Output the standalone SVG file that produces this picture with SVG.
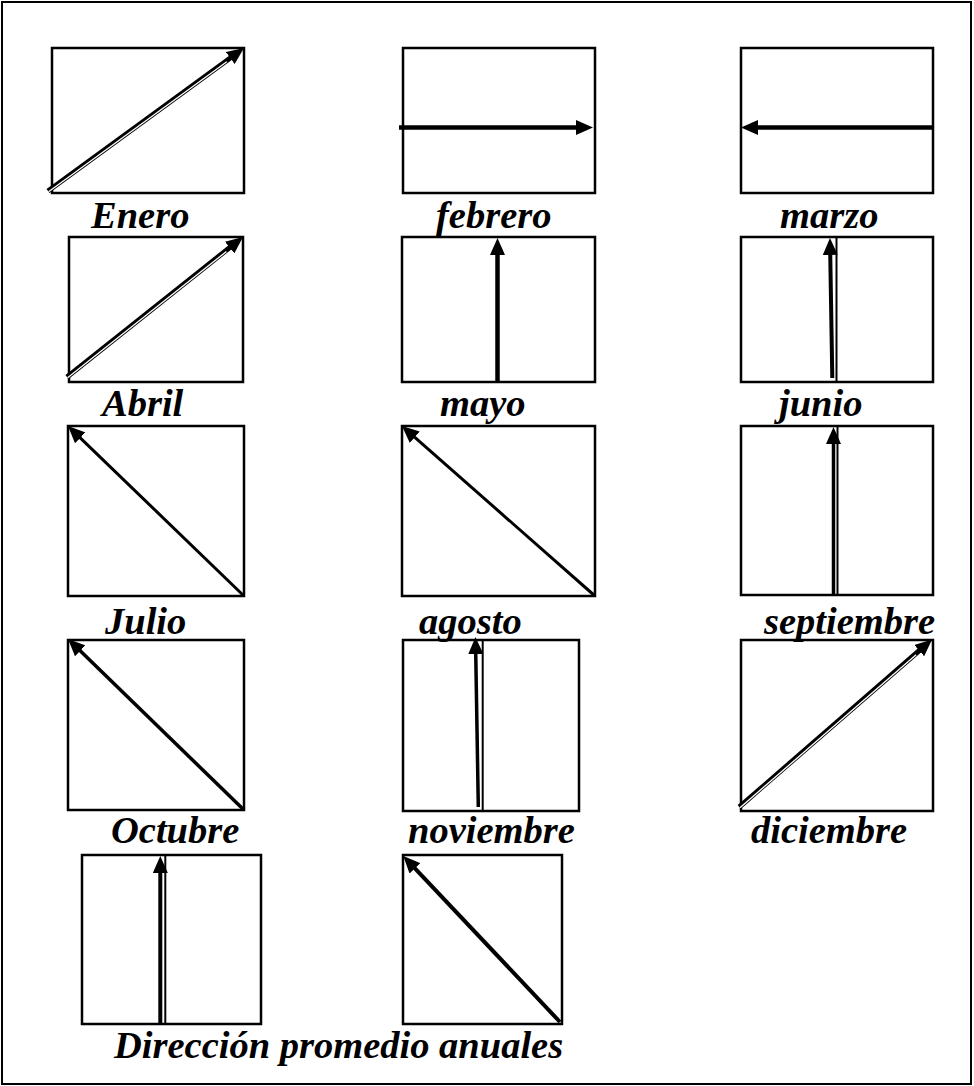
<svg xmlns="http://www.w3.org/2000/svg" width="974" height="1086" viewBox="0 0 974 1086">
<style>
.frame{fill:#fff;stroke:#000;stroke-width:2}
.box{fill:none;stroke:#000;stroke-width:2.5}
.lbl{font-family:"Liberation Serif","Times New Roman",serif;font-weight:bold;font-style:italic;font-size:38.5px;fill:#000}
.a{stroke:#000;fill:none;marker-end:url(#ah)}
.w{stroke:#fff;stroke-width:1.3;fill:none}
.t{stroke:#000;stroke-width:2;fill:none}
</style>
<defs>
<marker id="ah" markerUnits="userSpaceOnUse" markerWidth="17" markerHeight="15" refX="9" refY="7.5" orient="auto">
<path d="M0,0 L17,7.5 L0,15 z" fill="#000"/>
</marker>
</defs>
<rect class="frame" x="2" y="2" width="969" height="1082"/>
<g id="enero"><rect class="box" x="52" y="48" width="192" height="145"/><text class="lbl" x="91" y="228">Enero</text></g>
<g id="febrero"><rect class="box" x="403" y="48" width="192" height="145"/><text class="lbl" x="436" y="228">febrero</text></g>
<g id="marzo"><rect class="box" x="741" y="48" width="192" height="145"/><text class="lbl" x="780" y="228">marzo</text></g>
<g id="abril"><rect class="box" x="69" y="237" width="174" height="145"/><text class="lbl" x="102" y="416">Abril</text></g>
<g id="mayo"><rect class="box" x="402" y="237" width="193" height="145"/><text class="lbl" x="440" y="416">mayo</text></g>
<g id="junio"><rect class="box" x="741" y="237" width="192" height="145"/><text class="lbl" x="779" y="416">junio</text></g>
<g id="julio"><rect class="box" x="68" y="426" width="176" height="170"/><text class="lbl" x="105" y="634">Julio</text></g>
<g id="agosto"><rect class="box" x="402" y="426" width="193" height="170"/><text class="lbl" x="419" y="634">agosto</text></g>
<g id="septiembre"><rect class="box" x="741" y="426" width="192" height="169"/><text class="lbl" x="764" y="634">septiembre</text></g>
<g id="octubre"><rect class="box" x="68" y="640" width="176" height="170"/><text class="lbl" x="111" y="843">Octubre</text></g>
<g id="noviembre"><rect class="box" x="403" y="640" width="176" height="171"/><text class="lbl" x="408" y="843">noviembre</text></g>
<g id="diciembre"><rect class="box" x="741" y="640" width="192" height="171"/><text class="lbl" x="751" y="843">diciembre</text></g>
<g id="anual1"><rect class="box" x="82" y="855" width="179" height="169"/></g>
<g id="anual2"><rect class="box" x="403" y="855" width="159" height="169"/></g>
<g id="caption"><text class="lbl" x="114" y="1058">Dirección promedio anuales</text></g>
<g id="connectors">
<line class="a" x1="48" y1="191" x2="237.5" y2="52.7" stroke-width="5"/>
<line class="w" x1="48.6" y1="191.8" x2="226.8" y2="61.8"/>
<line class="a" x1="399" y1="127.5" x2="585" y2="127.5" stroke-width="4.5"/>
<line class="a" x1="933" y1="127.5" x2="749" y2="127.5" stroke-width="4.5"/>
<line class="a" x1="67" y1="377" x2="236.7" y2="242" stroke-width="5"/>
<line class="w" x1="67.6" y1="377.8" x2="226.4" y2="251.5"/>
<line class="a" x1="497.5" y1="382" x2="497.5" y2="246" stroke-width="4.5"/>
<line class="a" x1="832.3" y1="378" x2="830.1" y2="246" stroke-width="4"/>
<line class="t" x1="836.5" y1="237" x2="836.5" y2="382"/>
<line class="a" x1="244" y1="596" x2="73.75" y2="431.6" stroke-width="3"/>
<line class="a" x1="595" y1="596" x2="408" y2="431.3" stroke-width="3"/>
<line class="a" x1="833.5" y1="595" x2="833.5" y2="435" stroke-width="3.5"/>
<line class="t" x1="837.5" y1="426" x2="837.5" y2="595"/>
<line class="a" x1="244" y1="810" x2="73.75" y2="644.6" stroke-width="3.5"/>
<line class="a" x1="478.3" y1="807" x2="475.6" y2="645" stroke-width="3.5"/>
<line class="t" x1="482.7" y1="640" x2="482.7" y2="811"/>
<line class="a" x1="739.3" y1="807" x2="926" y2="644.75" stroke-width="5"/>
<line class="w" x1="740" y1="807.8" x2="916.1" y2="654.7"/>
<line class="a" x1="160.3" y1="1024" x2="160.3" y2="864" stroke-width="4"/>
<line class="t" x1="165.3" y1="855" x2="165.3" y2="1024"/>
<line class="a" x1="560" y1="1022" x2="408.8" y2="861.8" stroke-width="4"/>
</g>
</svg>
